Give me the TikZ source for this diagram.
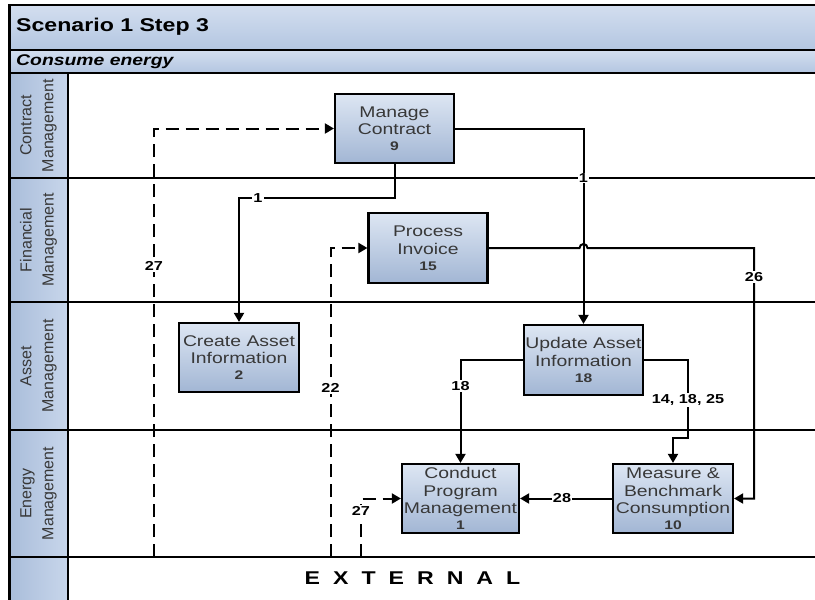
\documentclass[tikz,border=0pt]{standalone}
\usepackage{fontspec}
\setmainfont{Liberation Sans}
\newfontfamily\wideF[FakeStretch=1.25]{Liberation Sans}
\usetikzlibrary{arrows.meta}
\definecolor{boxtop}{HTML}{DDE6F3}
\definecolor{boxbot}{HTML}{A2B6D4}
\definecolor{bartop}{HTML}{D3DEEF}
\definecolor{barbot}{HTML}{B3C6E1}
\definecolor{coltop}{HTML}{A9BDDA}
\definecolor{colbot}{HTML}{C8D6EB}
\definecolor{txtgray}{HTML}{383838}
\newcommand\boxfont{\wideF\fontsize{15.5}{17.5}\selectfont}
\newcommand\numfont{\wideF\bfseries\fontsize{12.5}{15}\selectfont}
\newcommand\lblfont{\wideF\bfseries\fontsize{13}{15}\selectfont}
\newcommand\lanefont{\fontsize{16}{22}\selectfont}
\newcommand\extgap{\hskip 13pt}
\begin{document}
\begin{tikzpicture}[x=1pt,y=-1pt,
  proc/.style={draw=black, line width=2.2pt, top color=boxtop, bottom color=boxbot,
    minimum width=119pt, minimum height=69pt, inner sep=0pt, align=center,
    font=\boxfont, text=txtgray},
  arr/.style={line width=2pt, -{Triangle[length=9pt,width=10pt]}},
  dsh/.style={arr, dash pattern=on 13pt off 7pt},
  lbl/.style={fill=white, inner sep=1pt, font=\lblfont, text=black},
  lane/.style={line width=1.6pt},
  lanelbl/.style={rotate=90, align=center, font=\lanefont, text=txtgray}]
\useasboundingbox (0,0) rectangle (815,600);
% background bars
\fill[top color=bartop, bottom color=barbot] (9,5) rectangle (815,50);
\fill[top color=bartop, bottom color=barbot] (9,50) rectangle (815,73);
\fill[left color=coltop, right color=colbot] (9,73) rectangle (68,600);
% frame lines
\draw[line width=2pt] (9,5) -- (815,5);
\draw[lane] (9,50) -- (815,50);
\draw[lane] (9,73) -- (815,73);
\draw[lane] (68,73) -- (68,600);
\foreach \yy in {178,302,430,557} \draw[lane] (9,\yy) -- (815,\yy);
\draw[line width=3pt] (9,4) -- (9,600);
% titles
\node[anchor=west, inner sep=0pt, font=\wideF\bfseries\fontsize{18.5}{20}\selectfont] (title) at (16,27) {Scenario 1 Step 3};
\node[anchor=west, inner sep=0pt, font=\wideF\bfseries\itshape\fontsize{15.5}{18}\selectfont] (sub) at (16,61.5) {Consume energy};
% lane labels
\node[lanelbl] (l1) at (38.5,125.5) {Contract\\Management};
\node[lanelbl] (l2) at (38.5,240) {Financial\\Management};
\node[lanelbl] (l3) at (38.5,366) {Asset\\Management};
\node[lanelbl] (l4) at (38.5,493.5) {Energy\\Management};
\node[font=\wideF\bfseries\fontsize{18.5}{20}\selectfont] (ext) at (412.5,578) {E\extgap X\extgap T\extgap E\extgap R\extgap N\extgap A\extgap L};
% process boxes
\node[proc] (mc) at (394.5,128.5) {Manage\\Contract\\[-1.5pt]{\numfont 9}};
\node[proc, minimum height=70pt] (pi) at (428,248) {Process\\Invoice\\[-1.5pt]{\numfont 15}};
\node[proc, minimum width=120pt] (ca) at (239,357.5) {Create Asset\\Information\\[-1.5pt]{\numfont 2}};
\node[proc, minimum height=70pt] (ua) at (583.5,360) {Update Asset\\Information\\[-1.5pt]{\numfont 18}};
\node[proc, minimum width=117pt] (cp) at (460.5,498.5) {Conduct\\Program\\Management\\[-2pt]{\numfont 1}};
\node[proc, minimum width=120pt] (mb) at (673,498.5) {Measure \&\\Benchmark\\Consumption\\[-2pt]{\numfont 10}};
% dangling ends on the External lane line
\coordinate (e1) at (154,557);
\coordinate (e2) at (330.5,557);
\coordinate (e3) at (361,557);
% solid connectors
\draw[arr] (mc.south) -- (mc.south |- 0,198) -- (ca.north |- 0,198) -- (ca.north);
\node[lbl] (t1) at (258,198) {1};
\draw[arr] (mc.east) -- (ua.north |- mc.east) -- (ua.north);
\node[lbl] (t2) at (583.5,178) {1};
\draw[arr] (pi.east) -- (579.5,248) arc[start angle=180, end angle=360, x radius=4, y radius=4] -- (754,248) -- (754,498.5) -- (mb.east);
\node[lbl] (t3) at (754,277) {26};
\draw[arr] (ua.west) -- (cp.north |- ua.west) -- (cp.north);
\node[lbl] (t4) at (460.5,386) {18};
\draw[arr] (ua.east) -- (688,360) -- (688,438) -- (mb.north |- 0,438) -- (mb.north);
\node[lbl] (t5) at (688,400) {14, 18, 25};
\draw[arr] (mb.west) -- (cp.east);
\node[lbl] (t6) at (562,498.5) {28};
% dashed connectors
\draw[dsh] (e1) -- (e1 |- mc.west) -- (mc.west);
\node[lbl] (t7) at (154,266) {27};
\draw[dsh] (e2) -- (e2 |- pi.west) -- (pi.west);
\node[lbl] (t8) at (330.5,388) {22};
\draw[dsh] (e3) -- (e3 |- cp.west) -- (cp.west);
\node[lbl] (t9) at (361,511) {27};
\end{tikzpicture}
\end{document}
